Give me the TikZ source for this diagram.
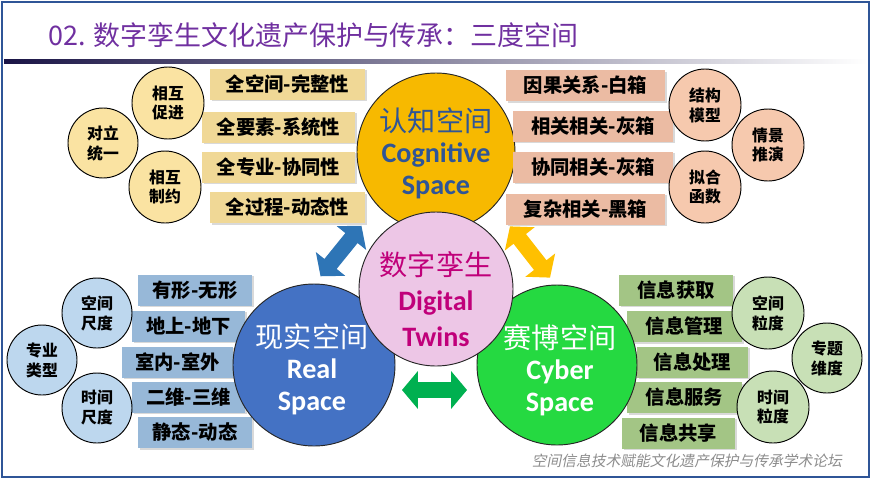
\documentclass[tikz,border=0pt]{standalone}
\usepackage{fontspec}
\usepackage{xcolor}
\usepackage{tikz}
\usetikzlibrary{shapes.arrows, shadows, positioning}

\newfontfamily\cjk{Noto Sans CJK SC}
\newfontfamily\cjkslant[FakeSlant=0.2]{Noto Sans CJK SC}
\newfontfamily\latin{Carlito}

\definecolor{framecol}{HTML}{2F5597}
\definecolor{titlecol}{HTML}{7030A0}
\definecolor{rulecol}{HTML}{1A1446}
\definecolor{rulemid}{HTML}{2C2A86}
\definecolor{goldcol}{HTML}{F7B900}
\definecolor{cogtext}{HTML}{2F5597}
\definecolor{pinkcol}{HTML}{EDC6E6}
\definecolor{pinktext}{HTML}{C0007A}
\definecolor{realcol}{HTML}{4472C4}
\definecolor{cybercol}{HTML}{25D941}
\definecolor{tanbox}{HTML}{F0D896}
\definecolor{tanball}{HTML}{FAE3A2}
\definecolor{salbox}{HTML}{EBBBA3}
\definecolor{salball}{HTML}{F6C9AE}
\definecolor{bluebox}{HTML}{97B8D8}
\definecolor{blueball}{HTML}{BDD7EE}
\definecolor{greenbox}{HTML}{A3C585}
\definecolor{greenball}{HTML}{C8E0B6}
\definecolor{arrblue}{HTML}{2E75B6}
\definecolor{arrgold}{HTML}{FFC000}
\definecolor{arrgreen}{HTML}{00B050}

\begin{document}
\begin{tikzpicture}[x=0.3mm,y=-0.3mm]
\tikzstyle{big}=[circle,draw=black!85,line width=0.8pt,inner sep=0pt]
\tikzstyle{bigtxt}=[align=center,inner sep=0pt]
\tikzstyle{box}=[rectangle,inner sep=0pt,minimum height=9.3mm,
  font=\cjk\bfseries\fontsize{16.5}{18}\selectfont,
  drop shadow={shadow xshift=0.5mm,shadow yshift=-0.5mm,opacity=0.3}]
\tikzstyle{ball}=[circle,draw=black,line width=0.8pt,inner sep=0pt,minimum size=21.6mm,
  align=center,font=\cjk\bfseries\fontsize{13.5}{17}\selectfont]
\tikzstyle{twoway}=[double arrow,inner xsep=0pt,inner ysep=2.3mm,minimum height=19.5mm,
  double arrow head extend=3.3mm,double arrow tip angle=100]

\useasboundingbox (0,0) rectangle (871,479);

% Frame and title
\draw[framecol,line width=1.6pt] (2,2) rectangle (869,477);
\node[anchor=west,text=titlecol,font=\cjk\fontsize{23}{26}\selectfont] (title) at (44,35)
  {02. 数字孪生文化遗产保护与传承：三度空间};
\shade[left color=rulecol,middle color=rulemid,right color=white] (4,59.5) rectangle (867,63.5);

% Cognitive space
\node[big,fill=goldcol,minimum size=47.4mm] (cog) at (436,152) {};
\node[box,fill=tanbox,minimum width=46.5mm] (t1) at (287.5,84) {全空间-完整性};
\node[box,fill=tanbox,minimum width=46mm] (t2) at (278.5,127) {全要素-系统性};
\node[box,fill=tanbox,minimum width=46mm] (t3) at (278.5,167) {全专业-协同性};
\node[box,fill=tanbox,minimum width=46.5mm] (t4) at (287.5,207.5) {全过程-动态性};
\node[ball,fill=tanball] (tc1) at (168,103) {相互\\促进};
\node[ball,fill=tanball,minimum size=21mm] (tc2) at (103,143) {对立\\统一};
\node[ball,fill=tanball] (tc3) at (165,187) {相互\\制约};

\node[box,fill=salbox,minimum width=47.7mm] (s1) at (585.5,85.5) {因果关系-白箱};
\node[box,fill=salbox,minimum width=48mm] (s2) at (593,126) {相关相关-灰箱};
\node[box,fill=salbox,minimum width=48mm] (s3) at (593,167) {协同相关-灰箱};
\node[box,fill=salbox,minimum width=47.7mm] (s4) at (585.5,209) {复杂相关-黑箱};
\node[ball,fill=salball] (sc1) at (705,105) {结构\\模型};
\node[ball,fill=salball] (sc2) at (768,145) {情景\\推演};
\node[ball,fill=salball] (sc3) at (705,187) {拟合\\函数};

% Real space
\node[box,fill=bluebox,minimum width=34.2mm] (b1) at (195,290) {有形-无形};
\node[box,fill=bluebox,minimum width=34mm] (b2) at (188.5,326) {地上-地下};
\node[box,fill=bluebox,minimum width=33.3mm] (b3) at (177.5,362) {室内-室外};
\node[box,fill=bluebox,minimum width=34mm] (b4) at (188.5,397) {二维-三维};
\node[box,fill=bluebox,minimum width=34.2mm] (b5) at (195,432.5) {静态-动态};
\node[ball,fill=blueball,minimum size=21mm] (bc1) at (97,313) {空间\\尺度};
\node[ball,fill=blueball,minimum size=21mm] (bc2) at (42,360) {专业\\类型};
\node[ball,fill=blueball,minimum size=21mm] (bc3) at (97,408) {时间\\尺度};

% Cyber space
\node[box,fill=greenbox,minimum width=34.2mm] (g1) at (676,290) {信息获取};
\node[box,fill=greenbox,minimum width=34.5mm] (g2) at (684.5,326.5) {信息管理};
\node[box,fill=greenbox,minimum width=33.3mm] (g3) at (692.5,362) {信息处理};
\node[box,fill=greenbox,minimum width=34.5mm] (g4) at (684.5,397.5) {信息服务};
\node[box,fill=greenbox,minimum width=34mm] (g5) at (678.5,433) {信息共享};
\node[ball,fill=greenball] (gc1) at (768,313) {空间\\粒度};
\node[ball,fill=greenball,minimum size=21mm] (gc2) at (827,358) {专题\\维度};
\node[ball,fill=greenball] (gc3) at (773,407) {时间\\粒度};

% Three spaces
\node[big,fill=realcol,minimum size=48.6mm] (real) at (314,365) {};
\node[big,fill=cybercol,minimum size=48mm] (cyber) at (557,365) {};
\node[big,fill=pinkcol,minimum size=46.2mm] (twin) at (436,289) {};

\node[bigtxt,text=cogtext,font=\fontsize{24}{27}\selectfont] (coglab) at (436,153)
  {{\cjk 认知空间}\\{\latin\bfseries Cognitive}\\{\latin\bfseries Space}};
\node[bigtxt,text=pinktext,font=\fontsize{24}{30}\selectfont] (twinlab) at (436,299)
  {{\cjk 数字孪生}\\{\latin\bfseries Digital}\\{\latin\bfseries Twins}};
\node[bigtxt,text=white,font=\fontsize{24}{27}\selectfont] (reallab) at (312,369)
  {{\cjk 现实空间}\\{\latin\bfseries Real}\\{\latin\bfseries Space}};
\node[bigtxt,text=white,font=\fontsize{24}{27}\selectfont] (cyberlab) at (560,370)
  {{\cjk 赛博空间}\\{\latin\bfseries Cyber}\\{\latin\bfseries Space}};

% Links between the spaces
\node[twoway,fill=arrblue,rotate=51] (rc) at (341,251) {};
\node[twoway,fill=arrgold,rotate=-52] (cc) at (530,252) {};
\node[twoway,fill=arrgreen] (rcy) at (434.5,390) {};

% Footer
\node[anchor=east,text=black!45,font=\cjkslant\fontsize{12.6}{14}\selectfont] (foot) at (846,461)
  {空间信息技术赋能文化遗产保护与传承学术论坛};
\end{tikzpicture}
\end{document}
